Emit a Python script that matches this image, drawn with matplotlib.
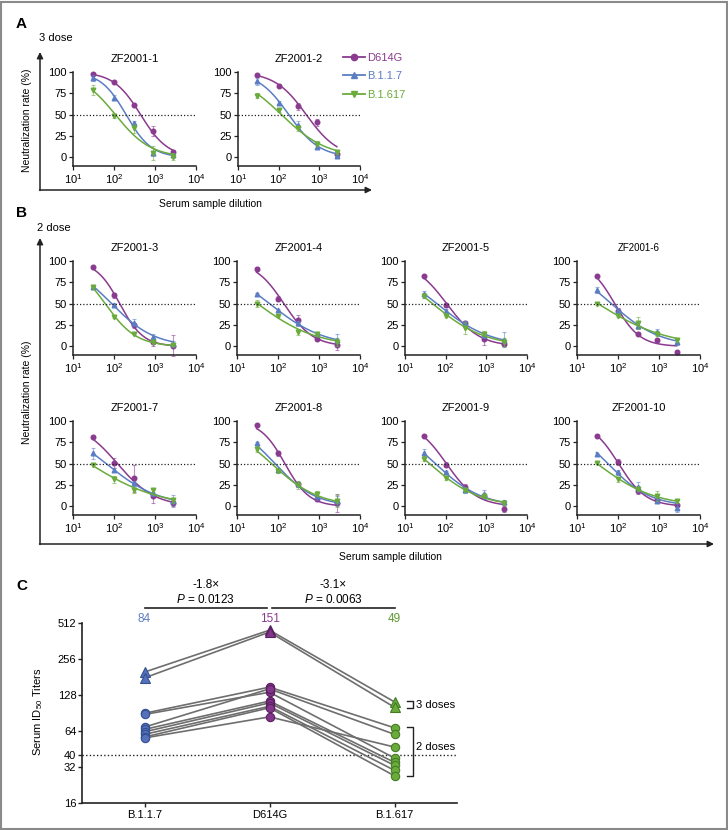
import numpy as np
import matplotlib
matplotlib.use('Agg')
from matplotlib import pyplot as plt
from matplotlib.lines import Line2D
from matplotlib.patches import Rectangle

plt.rcParams['font.family'] = ['Liberation Sans', 'DejaVu Sans']
plt.rcParams['mathtext.fontset'] = 'custom'
plt.rcParams['mathtext.rm'] = 'Liberation Sans'
plt.rcParams['mathtext.it'] = 'Liberation Sans:italic'

# dilutions used in every neutralization panel
dilution = [30, 100, 300, 900, 2700]

sera = ['ZF2001-1', 'ZF2001-2', 'ZF2001-3', 'ZF2001-4', 'ZF2001-5',
        'ZF2001-6', 'ZF2001-7', 'ZF2001-8', 'ZF2001-9', 'ZF2001-10']

# neutralization rate (%) per serum
d614g = [[98, 88, 61, 31, 6], [96, 84, 60, 41, 4], [93, 60, 25, 5, 1],
         [91, 56, 31, 9, 2], [82, 48, 27, 9, 3], [82, 42, 15, 7, -6],
         [81, 51, 33, 12, 4], [95, 62, 26, 9, 4], [83, 49, 23, 12, -3],
         [83, 52, 18, 8, 2]]
b117 = [[93, 70, 40, 5, 3], [89, 64, 38, 12, 2], [69, 49, 28, 11, 3],
        [61, 43, 27, 15, 7], [61, 42, 27, 13, 8], [66, 42, 24, 17, 5],
        [62, 43, 27, 16, 6], [74, 43, 26, 12, 6], [62, 40, 19, 14, 5],
        [61, 40, 23, 6, -2]]
b1617 = [[79, 48, 34, 5, 1], [72, 55, 34, 16, 6], [70, 35, 15, 5, 2],
         [50, 36, 17, 15, 5], [59, 36, 22, 15, 5], [50, 36, 27, 15, 7],
         [49, 32, 19, 19, 7], [67, 41, 25, 15, 6], [56, 33, 19, 12, 4],
         [51, 32, 20, 12, 6]]

# SEM error bars
err_d614g = [[1, 1, 2, 6, 3], [1, 2, 4, 4, 3], [1, 3, 3, 4, 12], [2, 3, 6, 2, 6],
             [1, 2, 3, 7, 2], [1, 3, 2, 2, 1], [1, 6, 16, 8, 3], [1, 3, 3, 3, 11],
             [1, 3, 3, 3, 4], [1, 4, 3, 3, 2]]
err_b117 = [[4, 3, 3, 3, 2], [4, 2, 5, 2, 2], [2, 2, 4, 4, 3], [1, 1, 3, 2, 7],
            [4, 2, 3, 3, 9], [4, 3, 4, 3, 3], [6, 2, 3, 4, 7], [2, 2, 3, 4, 6],
            [5, 2, 3, 5, 3], [2, 3, 6, 2, 5]]
err_b1617 = [[6, 2, 5, 8, 4], [3, 2, 3, 3, 2], [1, 2, 2, 2, 2], [4, 2, 4, 2, 5],
             [2, 2, 7, 3, 5], [2, 2, 7, 3, 2], [1, 4, 3, 2, 3], [3, 2, 5, 3, 7],
             [3, 2, 2, 2, 2], [1, 3, 2, 6, 2]]

# panel C: ID50 titers (first two sera got 3 doses)
variants = ['B.1.1.7', 'D614G', 'B.1.617']
id50_b117 = [199, 178, 90, 88, 69, 66, 63, 60, 57, 56]
id50_d614g = [446, 430, 149, 135, 144, 114, 110, 103, 100, 84]
id50_b1617 = [112, 101, 68, 38, 60, 35, 33, 30, 27, 47]
gmt_labels = ['84', '151', '49']

purple = '#8a3a8f'
blue = '#5b7dc4'
green = '#6aab3c'

W, H = 728, 830
fig = plt.figure(figsize=(W / 100, H / 100), dpi=100)


def box(x0, y0, x1, y1):
    return fig.add_axes([x0 / W, 1 - y1 / H, (x1 - x0) / W, (y1 - y0) / H])


def fit(x, y):
    # log(inhibitor) vs normalized response, variable slope
    lx = np.log10(np.array(x, float))
    lic = np.arange(0.5, 4.5, 0.005)[:, None, None]
    h = np.arange(0.2, 4.0, 0.01)[None, :, None]
    pred = 100 / (1 + 10 ** ((lx[None, None, :] - lic) * h))
    sse = ((pred - np.array(y, float)) ** 2).sum(-1)
    i, j = np.unravel_index(sse.argmin(), sse.shape)
    return lic[i, 0, 0], h[0, j, 0]


# overlay in pixel coords for arrows and free text
ov = fig.add_axes([0, 0, 1, 1])
ov.set_xlim(0, W)
ov.set_ylim(H, 0)
ov.axis('off')

arrow = dict(arrowstyle='-|>', color='#222222', lw=1.1, mutation_scale=9,
             shrinkA=0, shrinkB=0)
ov.annotate('', xy=(40, 52), xytext=(40, 190.5), arrowprops=arrow)
ov.annotate('', xy=(372, 190), xytext=(39.5, 190), arrowprops=arrow)
ov.annotate('', xy=(40, 238), xytext=(40, 544.5), arrowprops=arrow)
ov.annotate('', xy=(714, 544), xytext=(39.5, 544), arrowprops=arrow)

ov.text(16, 24, 'A', fontsize=11, fontweight='bold', va='center')
ov.text(16, 213, 'B', fontsize=11, fontweight='bold', va='center')
ov.text(16, 586, 'C', fontsize=11, fontweight='bold', va='center')
ov.text(39, 38, '3 dose', fontsize=8, va='center')
ov.text(37, 228, '2 dose', fontsize=8, va='center')
ov.text(27, 120, 'Neutralization rate (%)', fontsize=7.5, rotation=90,
        ha='center', va='center')
ov.text(27, 392, 'Neutralization rate (%)', fontsize=7.5, rotation=90,
        ha='center', va='center')
ov.text(210, 204, 'Serum sample dilution', fontsize=7.5, ha='center', va='center')
ov.text(390, 557, 'Serum sample dilution', fontsize=7.5, ha='center', va='center')

series = [(d614g, err_d614g, purple, 'o', 'D614G'),
          (b117, err_b117, blue, '^', 'B.1.1.7'),
          (b1617, err_b1617, green, 'v', 'B.1.617')]

# pixel boxes of the ten neutralization panels
cols = [(73, 196), (237, 360), (405, 527), (577, 700)]
boxes = [(73, 72, 196, 166), (238, 72, 360, 166)]
for top in (261, 421):
    for c0, c1 in cols:
        boxes.append((c0, top, c1, top + 94))

xs = np.logspace(np.log10(dilution[0]), np.log10(dilution[-1]), 200)
for k, name in enumerate(sera):
    ax = box(*boxes[k])
    for vals, errs, color, mk, lab in series:
        ax.errorbar(dilution, vals[k], yerr=errs[k], fmt='none', ecolor=color,
                    alpha=0.55, elinewidth=0.8, capsize=1.5, capthick=0.8,
                    clip_on=False)
        ax.plot(dilution, vals[k], mk, color=color, ms=3.3, clip_on=False)
        lic, h = fit(dilution, vals[k])
        ax.plot(xs, 100 / (1 + 10 ** ((np.log10(xs) - lic) * h)), color=color,
                lw=1.1)
    ax.axhline(50, ls=(0, (1, 1.6)), color='#222222', lw=0.9)
    ax.set_xscale('log')
    ax.set_xlim(10, 1e4)
    ax.set_ylim(-10, 100)
    ax.set_yticks([0, 25, 50, 75, 100])
    ax.set_xticks([10, 100, 1000, 10000])
    ax.minorticks_off()
    for s in ('top', 'right'):
        ax.spines[s].set_visible(False)
    for s in ('left', 'bottom'):
        ax.spines[s].set_linewidth(1.1)
        ax.spines[s].set_color('#222222')
    ax.tick_params(length=3, width=0.9, labelsize=8, pad=1.5, color='#222222')
    ax.patch.set_alpha(0)
    ax.set_title(name, fontsize=7 if name == 'ZF2001-6' else 8, pad=7)

handles = [Line2D([], [], color=c, marker=m, ms=4.5, lw=1.3)
           for _, _, c, m, _ in series]
fig.legend(handles, [s[4] for s in series], loc='upper left',
           bbox_to_anchor=(343 / W, 1 - 53 / H), frameon=False, fontsize=8,
           handlelength=2.0, handletextpad=0.15, labelspacing=0.75,
           borderpad=0, borderaxespad=0, labelcolor='linecolor')

# panel C
axc = box(82, 623, 457, 803)
pos = [0, 1, 2]
for i in range(len(id50_b117)):
    axc.plot(pos, [id50_b117[i], id50_d614g[i], id50_b1617[i]],
             color='#6e6e6e', lw=1.2, zorder=1)
for p, vals, fc, ec in [(0, id50_b117, '#5571bb', '#34508f'),
                        (1, id50_d614g, '#82368a', '#5a1f60'),
                        (2, id50_b1617, '#6aab3c', '#437c22')]:
    for i, v in enumerate(vals):
        axc.plot(p, v, '^' if i < 2 else 'o', ms=6 if i >= 2 else 6.5,
                 mfc=fc, mec=ec, mew=0.8, zorder=3, clip_on=False)
axc.axhline(40, ls=(0, (1, 1.6)), color='#222222', lw=1.0, zorder=0)
axc.set_yscale('log', base=2)
axc.set_ylim(16, 512)
axc.set_xlim(-0.5, 2.5)
yt = [16, 32, 40, 64, 128, 256, 512]
axc.set_yticks(yt)
axc.set_yticklabels([str(v) for v in yt])
axc.minorticks_off()
axc.set_xticks(pos)
axc.set_xticklabels(variants)
for s in ('top', 'right'):
    axc.spines[s].set_visible(False)
for s in ('left', 'bottom'):
    axc.spines[s].set_linewidth(1.2)
    axc.spines[s].set_color('#222222')
axc.tick_params(length=3, width=1, labelsize=8, pad=2, color='#222222')
axc.tick_params(axis='y', pad=1)
axc.set_ylabel('Serum ID$_{50}$ Titers', fontsize=8)
axc.yaxis.set_label_coords(-0.099, 0.505)
axc.patch.set_alpha(0)

tr = axc.get_xaxis_transform()
for p, txt, c in zip(pos, gmt_labels, [blue, purple, '#5d9a32']):
    axc.text(p, 1.022, txt, transform=tr, ha='center', va='center', fontsize=8.5,
             color=c)
for x0, x1, fold, pval in [(0, 0.98, '-1.8\u00d7', '0.0123'),
                           (1.02, 2, '-3.1\u00d7', '0.0063')]:
    axc.plot([x0, x1], [1.083, 1.083], color='#222222', lw=1.2, transform=tr,
             clip_on=False)
    axc.text((x0 + x1) / 2, 1.211, fold, transform=tr, ha='center',
             va='center', fontsize=8.5)
    axc.text((x0 + x1) / 2, 1.128, '$\\it{P}$ = ' + pval, transform=tr,
             ha='center', va='center', fontsize=8.5)

# dose brackets next to B.1.617
for ylo, yhi, label, ytxt in [(99, 114, '3 doses', 106), (27, 69, '2 doses', 47)]:
    axc.plot([2.1, 2.145, 2.145, 2.1], [ylo, ylo, yhi, yhi], color='#222222',
             lw=1.0, clip_on=False)
    axc.text(2.17, ytxt, label, fontsize=8, va='center', clip_on=False)

fig.add_artist(Rectangle((0.001, 0.001), 0.997, 0.997, transform=fig.transFigure,
                         fill=False, ec='#8a8a8a', lw=1.5))

fig.savefig('out.png', dpi=100)
